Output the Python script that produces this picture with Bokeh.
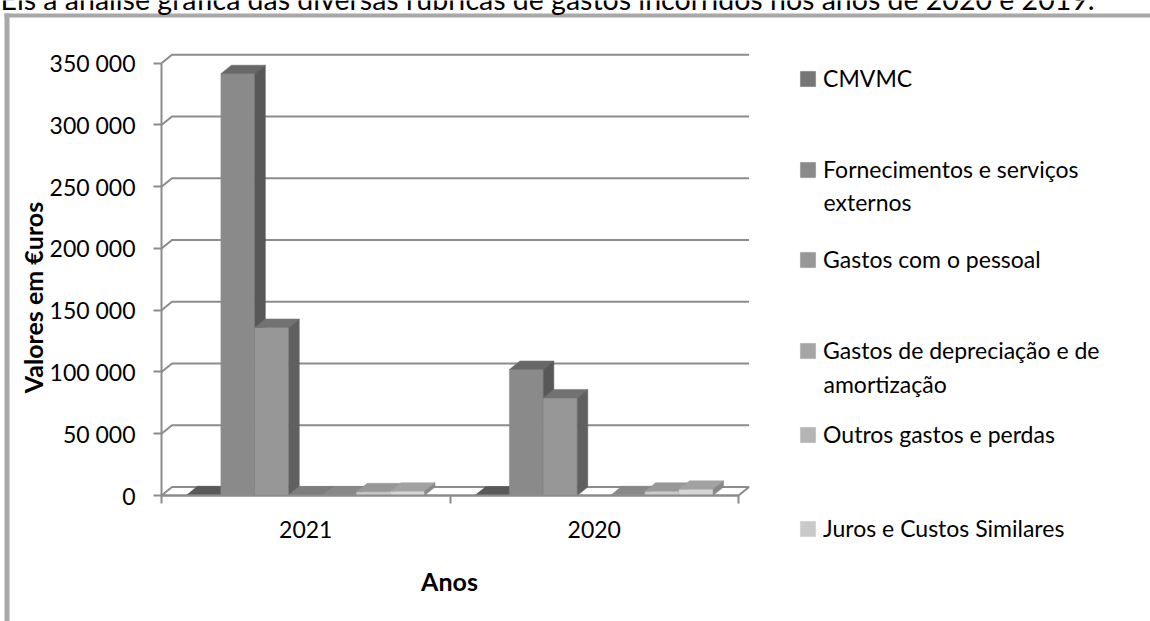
import math
from bokeh.plotting import figure
from bokeh.models import (Range1d, FixedTicker, Legend, LegendItem, Label, BoxAnnotation)
from bokeh.embed import file_html
from bokeh.resources import INLINE

# ---------------- data ----------------
years = ["2021", "2020"]
cmvmc = [600, 400]
fornecimentos = [341500, 102000]
pessoal = [136000, 79000]
depreciacao = [500, 0]
outros = [500, 600]
juros = [3000, 3500]
serie7 = [3500, 5000]          # 7th series (its legend entry is cut off in the source)

legend_lines = [
    ["CMVMC"],
    ["Fornecimentos e serviços", "externos"],
    ["Gastos com o pessoal"],
    ["Gastos de depreciação e de", "amortização"],
    ["Outros gastos e perdas"],
    ["Juros e Custos Similares"],
]
y_ticks = [0, 50000, 100000, 150000, 200000, 250000, 300000, 350000]
y_tick_labels = ["0", "50 000", "100 000", "150 000", "200 000", "250 000",
                 "300 000", "350 000"]
y_title = "Valores em €uros"
x_title = "Anos"
doc_text = "Eis a análise gráfica das diversas rubricas de gastos incorridos nos anos de 2020 e 2019."

series_values = [cmvmc, fornecimentos, pessoal, depreciacao, outros, juros, serie7]
series_colors = ["#767676", "#8a8a8a", "#979797", "#a5a5a5", "#b4b4b4", "#c9c9c9", "#d6d6d6"]

# ---------------- layout (page pixels) ----------------
W, H = 1150, 621
X0_PX, PX_PER_CAT = 161, 288.5          # where category axis starts, width of one category
Y0_PX, PX_PER_50K = 495, 61.76          # where value 0 sits, height of 50 000
ypp = 50000 / PX_PER_50K                # value units per pixel
xpp = 1 / PX_PER_CAT
DX, DY = 10.5 * xpp, 8.5 * ypp          # 3-D depth offset
FONT = "Lato"
GRID = "#8c8c8c"

def shade(hexc, f):
    r, g, b = (int(hexc[i:i + 2], 16) for i in (1, 3, 5))
    return "#%02x%02x%02x" % tuple(max(0, min(255, int(c * f))) for c in (r, g, b))

p = figure(width=W, height=H, output_backend="svg", toolbar_location=None,
           x_range=Range1d(-X0_PX * xpp, (W - X0_PX) * xpp),
           y_range=Range1d(-(H - Y0_PX) * ypp, Y0_PX * ypp),
           min_border=0)
p.outline_line_color = None
p.xgrid.visible = False
p.ygrid.visible = False
p.background_fill_color = "white"
p.border_fill_color = "white"

ncat = len(years)
nser = len(series_values)
bw = 1.0 / (nser + 1.5)

# floor
p.patch([0, ncat, ncat + DX, DX], [0, 0, DY, DY], fill_color="white",
        line_color=GRID, line_width=2)
# back-wall gridlines
gx, gy = [], []
for t in y_ticks[1:]:
    gx.append([0, DX, ncat + DX])
    gy.append([t, t + DY, t + DY])
p.multi_line(gx, gy, line_color=GRID, line_width=2)

# bars (front, top and side faces)
bar_renderers = []
for s, (vals, col) in enumerate(zip(series_values, series_colors)):
    xs_c, tops, txs, tys, sxs, sys_ = [], [], [], [], [], []
    for c, v in enumerate(vals):
        if v <= 0:
            continue
        xl = c + 0.75 * bw + s * bw
        xr = xl + bw
        xs_c.append((xl + xr) / 2)
        tops.append(v)
        txs.append([xl, xl + DX, xr + DX, xr])
        tys.append([v, v + DY, v + DY, v])
        sxs.append([xr, xr, xr + DX, xr + DX])
        sys_.append([0, v, v + DY, DY])
    r = p.vbar(x=xs_c, top=tops, bottom=0, width=bw, fill_color=col,
               line_color=col, line_width=0.5)
    p.patches(txs, tys, fill_color=shade(col, 0.76), line_color=shade(col, 0.76), line_width=0.5)
    p.patches(sxs, sys_, fill_color=shade(col, 0.64), line_color=shade(col, 0.64), line_width=0.5)
    bar_renderers.append(r)

# axes (pinned at the chart origin)
ya = p.yaxis[0]
ya.fixed_location = 0
ya.ticker = FixedTicker(ticks=y_ticks)
ya.major_label_overrides = {t: l for t, l in zip(y_ticks, y_tick_labels)}
ya.bounds = (0, y_ticks[-1])
ya.axis_line_color = GRID
ya.axis_line_width = 2
ya.major_tick_line_color = GRID
ya.major_tick_line_width = 2
ya.major_tick_out = 8
ya.major_tick_in = 0
ya.minor_tick_line_color = None
ya.major_label_text_font = FONT
ya.major_label_text_font_size = "23px"
ya.major_label_text_color = "black"
ya.major_label_standoff = 18

xa = p.xaxis[0]
xa.fixed_location = 0
centers = [i + 0.5 for i in range(ncat)]
xa.ticker = FixedTicker(ticks=centers, minor_ticks=list(range(ncat + 1)))
xa.major_label_overrides = {c: y for c, y in zip(centers, years)}
xa.bounds = (0, ncat)
xa.axis_line_color = GRID
xa.axis_line_width = 2
xa.major_tick_out = 0
xa.major_tick_in = 0
xa.major_tick_line_color = None
xa.minor_tick_out = 8
xa.minor_tick_in = 0
xa.minor_tick_line_color = GRID
xa.minor_tick_line_width = 2
xa.major_label_text_font = FONT
xa.major_label_text_font_size = "23px"
xa.major_label_text_color = "black"
xa.major_label_standoff = 17

# axis titles
p.add_layout(Label(x=32, y=H - 297, x_units="screen", y_units="screen", text=y_title,
                   angle=math.pi / 2, text_align="center", text_baseline="middle",
                   text_font=FONT, text_font_style="bold", text_font_size="25px",
                   text_color="black"))
p.add_layout(Label(x=449, y=H - 580, x_units="screen", y_units="screen", text=x_title,
                   text_align="center", text_baseline="middle",
                   text_font=FONT, text_font_style="bold", text_font_size="25px",
                   text_color="black"))

# legend (one box per entry, positioned like the source)
swatch_tops = [71, 162, 252, 343, 427, 521]      # page px
second_line_middles = {1: 201, 3: 383}
for s, lines in enumerate(legend_lines):
    lg = Legend(items=[LegendItem(label=lines[0], renderers=[bar_renderers[s]])],
                location=(798.1, H - (swatch_tops[s] + 21.1)), glyph_width=19, glyph_height=19,
                label_height=19, label_standoff=6, padding=0, margin=0, spacing=0,
                border_line_color=None, background_fill_alpha=0,
                label_text_font=FONT, label_text_font_size="23px",
                label_text_color="black")
    p.add_layout(lg, "center")
    if len(lines) > 1:
        p.add_layout(Label(x=823, y=H - second_line_middles[s],
                           x_units="screen", y_units="screen", text=lines[1],
                           text_font=FONT, text_font_size="23px", text_color="black",
                           text_baseline="middle"))

# chart-area border and the clipped document line above it
p.add_layout(BoxAnnotation(left=4, right=9, top=H - 13, bottom=0,
                           left_units="screen", right_units="screen",
                           top_units="screen", bottom_units="screen",
                           fill_color="#a8a8a8", fill_alpha=1, line_color=None))
p.add_layout(BoxAnnotation(left=4, right=W, top=H - 13, bottom=H - 17,
                           left_units="screen", right_units="screen",
                           top_units="screen", bottom_units="screen",
                           fill_color="#a8a8a8", fill_alpha=1, line_color=None))
p.add_layout(Label(x=0, y=H + 2, x_units="screen", y_units="screen",
                   text=doc_text, text_font=FONT, text_font_size="28.5px",
                   text_color="black", text_baseline="middle"))

open("out.html", "w").write(file_html(p, INLINE))
